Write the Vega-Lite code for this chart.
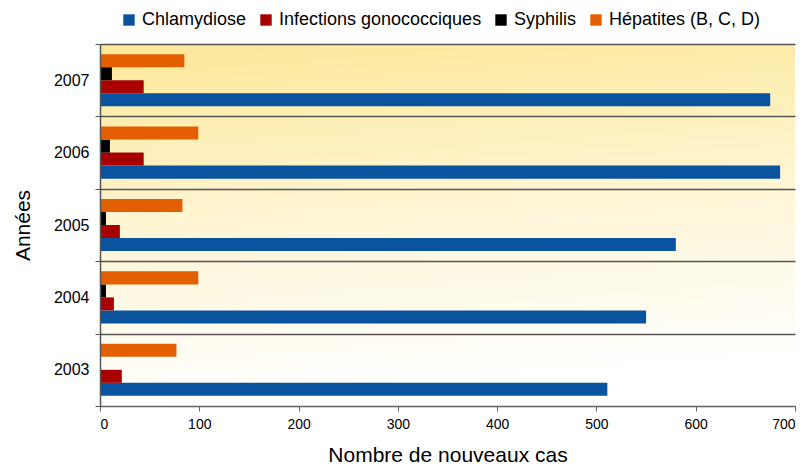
{
  "$schema": "https://vega.github.io/schema/vega-lite/v6.json",
  "width": 695,
  "height": 362,
  "autosize": "none",
  "padding": {"left": 100, "top": 44, "right": 17, "bottom": 62},
  "config": {
    "font": "Liberation Sans",
    "view": {"stroke": null}
  },
  "datasets": {
    "cases": [
      {"annee": "2007", "serie": "Chlamydiose", "cas": 675},
      {"annee": "2007", "serie": "Infections gonococciques", "cas": 44},
      {"annee": "2007", "serie": "Syphilis", "cas": 12},
      {"annee": "2007", "serie": "Hépatites (B, C, D)", "cas": 85},
      {"annee": "2006", "serie": "Chlamydiose", "cas": 685},
      {"annee": "2006", "serie": "Infections gonococciques", "cas": 44},
      {"annee": "2006", "serie": "Syphilis", "cas": 10},
      {"annee": "2006", "serie": "Hépatites (B, C, D)", "cas": 99},
      {"annee": "2005", "serie": "Chlamydiose", "cas": 580},
      {"annee": "2005", "serie": "Infections gonococciques", "cas": 20},
      {"annee": "2005", "serie": "Syphilis", "cas": 6},
      {"annee": "2005", "serie": "Hépatites (B, C, D)", "cas": 83},
      {"annee": "2004", "serie": "Chlamydiose", "cas": 550},
      {"annee": "2004", "serie": "Infections gonococciques", "cas": 14},
      {"annee": "2004", "serie": "Syphilis", "cas": 6},
      {"annee": "2004", "serie": "Hépatites (B, C, D)", "cas": 99},
      {"annee": "2003", "serie": "Chlamydiose", "cas": 511},
      {"annee": "2003", "serie": "Infections gonococciques", "cas": 22},
      {"annee": "2003", "serie": "Syphilis", "cas": 0},
      {"annee": "2003", "serie": "Hépatites (B, C, D)", "cas": 77}
    ],
    "fond": [{"debut": 0, "fin": 700}]
  },
  "layer": [
    {
      "data": {"name": "fond"},
      "mark": {
        "type": "rect",
        "color": {
          "gradient": "linear",
          "x1": 0, "y1": 0, "x2": 0.15, "y2": 1,
          "stops": [
            {"offset": 0, "color": "#FDE898"},
            {"offset": 0.55, "color": "#FEF6D8"},
            {"offset": 1, "color": "#FFFFFF"}
          ]
        }
      },
      "encoding": {
        "x": {"field": "debut", "type": "quantitative", "scale": {"domain": [0, 700]}},
        "x2": {"field": "fin"}
      }
    },
    {
      "data": {"name": "cases"},
      "mark": {"type": "bar"},
      "encoding": {
        "y": {
          "field": "annee",
          "type": "nominal",
          "sort": ["2007", "2006", "2005", "2004", "2003"],
          "scale": {"paddingInner": 0, "paddingOuter": 0},
          "axis": {
            "title": "Années",
            "titleFontSize": 21,
            "titleFontWeight": "normal",
            "titleColor": "#000",
            "titlePadding": 20,
            "labelFontSize": 16,
            "labelColor": "#000",
            "labelPadding": 6,
            "tickBand": "extent",
            "grid": true,
            "gridColor": "#555",
            "gridWidth": 1.5,
            "gridOpacity": 1,
            "domainColor": "#555",
            "domainWidth": 1.5,
            "tickColor": "#555",
            "tickSize": 5,
            "zindex": 1
          }
        },
        "yOffset": {
          "field": "serie",
          "type": "nominal",
          "sort": ["Hépatites (B, C, D)", "Syphilis", "Infections gonococciques", "Chlamydiose"],
          "scale": {"paddingInner": 0, "paddingOuter": 0.78}
        },
        "x": {
          "field": "cas",
          "type": "quantitative",
          "scale": {"domain": [0, 700]},
          "axis": {
            "title": "Nombre de nouveaux cas",
            "titleFontSize": 21,
            "titleFontWeight": "normal",
            "titleColor": "#000",
            "titlePadding": 13,
            "values": [0, 100, 200, 300, 400, 500, 600, 700],
            "labelFontSize": 14,
            "labelColor": "#000",
            "labelPadding": 6,
            "grid": false,
            "domainColor": "#666",
            "tickColor": "#666",
            "tickSize": 5,
            "zindex": 1
          }
        },
        "color": {
          "field": "serie",
          "type": "nominal",
          "scale": {
            "domain": ["Chlamydiose", "Infections gonococciques", "Syphilis", "Hépatites (B, C, D)"],
            "range": ["#0A539E", "#A80000", "#000000", "#E35F00"]
          },
          "legend": {
            "title": null,
            "orient": "none",
            "direction": "horizontal",
            "legendX": 20,
            "legendY": -33,
            "symbolType": "square",
            "symbolSize": 130,
            "symbolStrokeWidth": 0,
            "symbolOpacity": 1,
            "labelFontSize": 18,
            "labelLimit": 0,
            "labelColor": "#000",
            "labelOffset": 4,
            "columnPadding": 10
          }
        }
      }
    }
  ]
}
